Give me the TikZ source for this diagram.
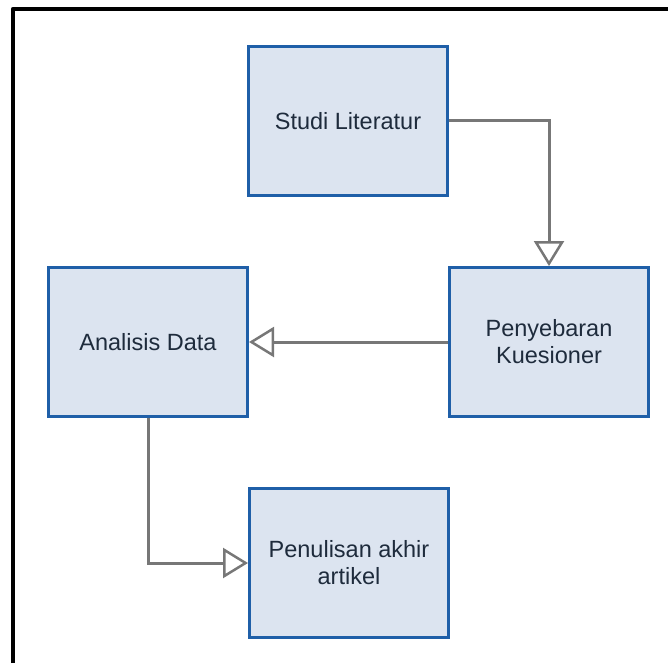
\documentclass[tikz,border=0pt]{standalone}
\usepackage{fontspec}
\setmainfont{Liberation Sans}
\usetikzlibrary{arrows.meta}
\definecolor{boxfill}{HTML}{DCE4F0}
\definecolor{boxline}{HTML}{1F5FA8}
\definecolor{conn}{HTML}{777777}
\definecolor{txt}{HTML}{1E2B3C}
\tikzset{
  stepbox/.style={draw=boxline, fill=boxfill, line width=3pt, minimum width=199pt, minimum height=149pt,
    inner sep=0pt, align=center, text=txt, font=\fontsize{23.5}{27}\selectfont},
  conn/.style={draw=conn, line width=3pt, -{Triangle[open, length=25pt, width=30pt, line width=2.5pt]}},
}
\begin{document}
\begin{tikzpicture}[x=1pt,y=-1pt]
\useasboundingbox (0,0) rectangle (668,663);
\draw[line width=4.5pt, line join=round] (13,663) -- (13,9) -- (668,9);
\node[stepbox] (studi) at (348,121) {Studi Literatur};
\node[stepbox] (peny) at (549,342) {Penyebaran\\Kuesioner};
\node[stepbox] (anal) at (148,342) {Analisis Data};
\node[stepbox] (tulis) at (349,563) {Penulisan akhir\\artikel};
\draw[conn] (studi.east) -| (peny.north);
\draw[conn] (peny.west) -- (anal.east);
\draw[conn] (anal.south) |- (tulis.west);
\end{tikzpicture}
\end{document}
